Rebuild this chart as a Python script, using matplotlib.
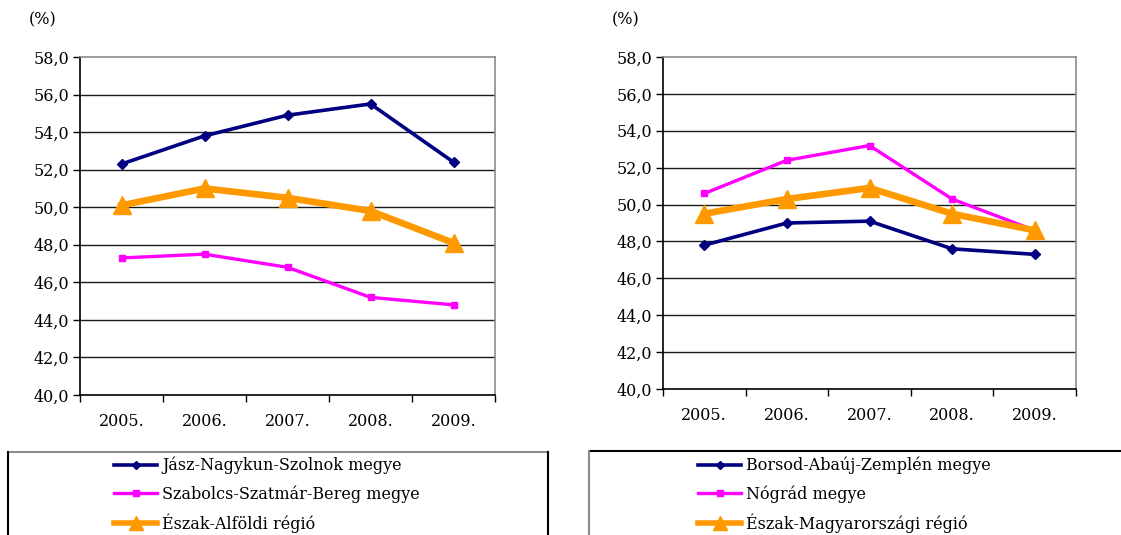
import matplotlib
matplotlib.use("Agg")
import matplotlib.pyplot as plt
from matplotlib.lines import Line2D

plt.rcParams['font.family'] = ['DejaVu Serif']

years = ["2005.", "2006.", "2007.", "2008.", "2009."]
yticks = [40, 42, 44, 46, 48, 50, 52, 54, 56, 58]

# Észak-Alföld
left_names = ["Jász-Nagykun-Szolnok megye", "Szabolcs-Szatmár-Bereg megye", "Észak-Alföldi régió"]
jasz = [52.3, 53.8, 54.9, 55.5, 52.4]
szabolcs = [47.3, 47.5, 46.8, 45.2, 44.8]
eszak_alfold = [50.1, 51.0, 50.5, 49.8, 48.1]

# Észak-Magyarország
right_names = ["Borsod-Abaúj-Zemplén megye", "Nógrád megye", "Észak-Magyarországi régió"]
borsod = [47.8, 49.0, 49.1, 47.6, 47.3]
nograd = [50.6, 52.4, 53.2, 50.3, 48.6]
eszak_magyar = [49.5, 50.3, 50.9, 49.5, 48.6]

W, H = 1121, 535
fig = plt.figure(figsize=(W / 100, H / 100), dpi=100)
fig.patch.set_facecolor("white")

NAVY = "#000080"
MAGENTA = "#FF00FF"
ORANGE = "#FF9900"
FS = 11.5

styles = [
    dict(color=NAVY, lw=2.6, marker="D", ms=5),
    dict(color=MAGENTA, lw=2.4, marker="s", ms=4.5),
    dict(color=ORANGE, lw=4.8, marker="^", ms=13),
]


def px_axes(x0, y0, x1, y1):
    return fig.add_axes([x0 / W, 1 - y1 / H, (x1 - x0) / W, (y1 - y0) / H])


def draw_panel(ax, series):
    x = list(range(len(years)))
    handles = []
    for vals, st in zip(series, styles):
        h, = ax.plot(x, vals, color=st["color"], lw=st["lw"], marker=st["marker"],
                     ms=st["ms"], mec=st["color"], mfc=st["color"],
                     solid_joinstyle="miter", zorder=3, clip_on=False)
        handles.append(h)
    ax.set_xlim(-0.5, len(years) - 0.5)
    ax.set_ylim(40, 58)
    ax.set_yticks(yticks)
    ax.set_yticklabels([f"{v:.1f}".replace(".", ",") for v in yticks], fontsize=FS)
    ax.set_xticks(x)
    ax.set_xticklabels(years, fontsize=FS)
    ax.set_xticks([i - 0.5 for i in range(len(years) + 1)], minor=True)
    ax.tick_params(axis="x", which="major", length=0, pad=13)
    ax.tick_params(axis="x", which="minor", length=5, width=1, color="black", direction="out")
    ax.tick_params(axis="y", length=5, width=1, color="black", pad=3)
    for v in yticks[1:-1]:
        ax.axhline(v, color="#1a1a1a", lw=1.0, zorder=1)
    ax.spines["left"].set_color("black")
    ax.spines["bottom"].set_color("black")
    ax.spines["top"].set_color("#8c8c8c")
    ax.spines["right"].set_color("#8c8c8c")
    for s in ax.spines.values():
        s.set_linewidth(1.2)
    return handles


ax1 = px_axes(80, 57, 495, 395)
h1 = draw_panel(ax1, [jasz, szabolcs, eszak_alfold])
ax2 = px_axes(663, 57, 1076, 389)
h2 = draw_panel(ax2, [borsod, nograd, eszak_magyar])

fig.text(29 / W, 1 - 20 / H, "(%)", fontsize=FS, va="center", ha="left")
fig.text(612 / W, 1 - 20 / H, "(%)", fontsize=FS, va="center", ha="left")

# Legend frames (open at the bottom edge)
def frame(x0, x1, y0, top_color, side_color):
    fig.add_artist(Line2D([x0 / W, x1 / W], [1 - y0 / H, 1 - y0 / H], color=top_color, lw=1.5))
    fig.add_artist(Line2D([x0 / W, x0 / W], [1 - y0 / H, 0], color=side_color, lw=1.5))
    if x1 < W:
        fig.add_artist(Line2D([x1 / W, x1 / W], [1 - y0 / H, 0], color="black", lw=1.5))


frame(8, 548, 452, "#8c8c8c", "black")
frame(589, W + 5, 451, "black", "#8c8c8c")


def legend(handles, names, x, y):
    leg = fig.legend(handles, names, loc="upper left",
                     bbox_to_anchor=(x / W, 1 - y / H), frameon=False,
                     fontsize=FS, handlelength=2.7, handletextpad=0.3,
                     labelspacing=0.66, borderpad=0, borderaxespad=0)
    for line in leg.get_lines():
        if line.get_marker() == "^":
            line.set_markersize(10)
            line.set_linewidth(4)
        else:
            line.set_markersize(4)
    return leg


legend(h1, left_names, 114, 457)
legend(h2, right_names, 698, 457)

fig.savefig("out.png", dpi=100, facecolor="white")
